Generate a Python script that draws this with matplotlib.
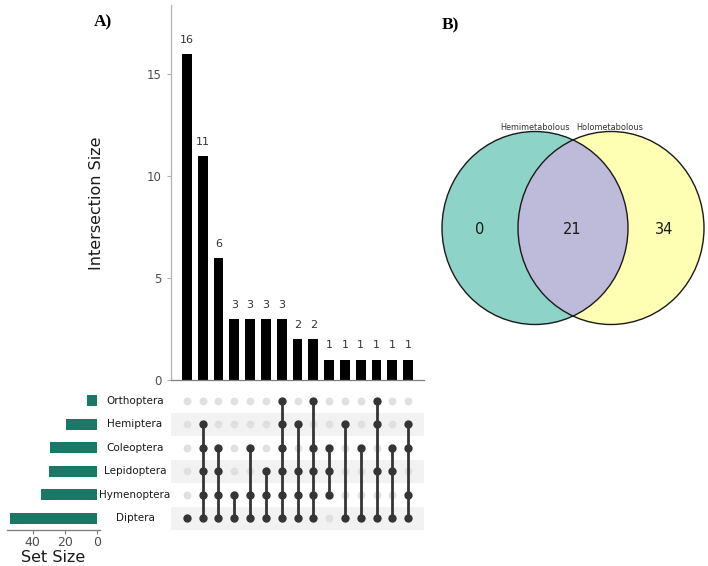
import numpy as np
import matplotlib
matplotlib.use("Agg")
from matplotlib import pyplot as plt
from matplotlib.patches import Ellipse
from matplotlib import transforms

# set names, top to bottom in the matrix
sets = ["Orthoptera", "Hemiptera", "Coleoptera", "Lepidoptera", "Hymenoptera", "Diptera"]
set_sizes = [6, 19, 29, 30, 35, 54]

# intersections, sorted by size
inter_sizes = [16, 11, 6, 3, 3, 3, 3, 2, 2, 1, 1, 1, 1, 1, 1]
inter_members = [
    ["Diptera"],
    ["Hemiptera", "Coleoptera", "Lepidoptera", "Hymenoptera", "Diptera"],
    ["Coleoptera", "Lepidoptera", "Hymenoptera", "Diptera"],
    ["Hymenoptera", "Diptera"],
    ["Coleoptera", "Hymenoptera", "Diptera"],
    ["Lepidoptera", "Hymenoptera", "Diptera"],
    ["Orthoptera", "Hemiptera", "Coleoptera", "Lepidoptera", "Hymenoptera", "Diptera"],
    ["Hemiptera", "Lepidoptera", "Hymenoptera", "Diptera"],
    ["Orthoptera", "Coleoptera", "Lepidoptera", "Hymenoptera", "Diptera"],
    ["Coleoptera", "Lepidoptera", "Hymenoptera"],
    ["Hemiptera", "Diptera"],
    ["Coleoptera", "Diptera"],
    ["Orthoptera", "Hemiptera", "Lepidoptera", "Diptera"],
    ["Coleoptera", "Lepidoptera", "Diptera"],
    ["Hemiptera", "Coleoptera", "Hymenoptera", "Diptera"],
]

# venn
venn_names = ["Hemimetabolous", "Holometabolous"]
venn_counts = [0, 21, 34]   # left only, both, right only

W, H = 708, 566
fig = plt.figure(figsize=(W / 100, H / 100), dpi=100)

def box(x0, y0, x1, y1):
    # pixel box -> figure fraction
    return [x0 / W, 1 - y1 / H, (x1 - x0) / W, (y1 - y0) / H]

grey = "#4d4d4d"
dot_on = "#353535"
dot_off = "#e0e0e0"
teal = "#1b7867"

n = len(inter_sizes)
xs = np.arange(n)
nrow = len(sets)
ys = np.arange(nrow)[::-1]   # Orthoptera on top

# ---- intersection bars
ax_bar = fig.add_axes(box(171, 5, 424, 380))
ax_bar.bar(xs, inter_sizes, width=0.62, color="black")
for x, v in zip(xs, inter_sizes):
    ax_bar.text(x, v + 0.45, str(v), ha="center", va="bottom", fontsize=8, color="#333333")
ax_bar.set_xlim(-1.0, 15.0)
ax_bar.set_ylim(0, 18.4)
ax_bar.set_yticks([0, 5, 10, 15])
ax_bar.tick_params(axis="y", colors="#b0b0b0", labelcolor=grey, labelsize=8.5, length=3, width=0.8)
ax_bar.set_xticks([])
for s in ["top", "right"]:
    ax_bar.spines[s].set_visible(False)
ax_bar.spines["left"].set_color("#b3b3b3")
ax_bar.spines["bottom"].set_color("#808080")
ax_bar.spines["left"].set_linewidth(0.9)
ax_bar.spines["bottom"].set_linewidth(0.9)
fig.text(97 / W, 1 - 203 / H, "Intersection Size", rotation=90, ha="center", va="center",
         fontsize=11.5, color="#1a1a1a")

# ---- matrix
ax_m = fig.add_axes(box(171, 389, 424, 530))
ax_m.set_xlim(-1.0, 15.0)
ax_m.set_ylim(-0.5, nrow - 0.5)
for i, y in enumerate(ys):
    if i % 2 == 1:
        ax_m.axhspan(y - 0.5, y + 0.5, color="#f2f2f2", lw=0, zorder=0)
for x, mem in zip(xs, inter_members):
    on = [ys[sets.index(s)] for s in mem]
    off = [ys[i] for i, s in enumerate(sets) if s not in mem]
    ax_m.scatter([x] * len(off), off, s=32, color=dot_off, zorder=2, lw=0)
    if len(on) > 1:
        ax_m.plot([x, x], [min(on), max(on)], color=dot_on, lw=2.0, zorder=3)
    ax_m.scatter([x] * len(on), on, s=36, color=dot_on, zorder=4, lw=0)
ax_m.axis("off")

tr = transforms.blended_transform_factory(fig.transFigure, ax_m.transData)
for s, y in zip(sets, ys):
    ax_m.text(135 / W, y, s, transform=tr, ha="center", va="center", fontsize=7.5, color="#1a1a1a")

# ---- set sizes
ax_s = fig.add_axes(box(7, 389, 100, 530))
ax_s.barh(ys, set_sizes, height=0.48, color=teal)
ax_s.set_xlim(55.9, -2.06)
ax_s.set_ylim(-0.5, nrow - 0.5)
ax_s.set_yticks([])
ax_s.set_xticks([0, 20, 40])
ax_s.tick_params(axis="x", colors="#808080", labelcolor=grey, labelsize=9, length=3, width=0.8, pad=1)
for s in ["top", "right", "left"]:
    ax_s.spines[s].set_visible(False)
ax_s.spines["bottom"].set_color("#808080")
ax_s.spines["bottom"].set_linewidth(1.0)
fig.text(53 / W, 1 - 557 / H, "Set Size", ha="center", va="center", fontsize=11.5, color="#1a1a1a")

# ---- venn
ax_v = fig.add_axes([0, 0, 1, 1], zorder=-1)
ax_v.set_xlim(0, W)
ax_v.set_ylim(H, 0)
ax_v.axis("off")
cx_l, cx_r, cy, rw, rh = 535, 611, 228, 186, 193
ax_v.add_patch(Ellipse((cx_l, cy), rw, rh, facecolor="#8dd3c7", edgecolor="none"))
ax_v.add_patch(Ellipse((cx_r, cy), rw, rh, facecolor="#ffffb3", edgecolor="none"))
# overlap region
left_clip = Ellipse((cx_l, cy), rw, rh, transform=ax_v.transData, facecolor="none", edgecolor="none")
ax_v.add_patch(left_clip)
ov = Ellipse((cx_r, cy), rw, rh, facecolor="#bebada", edgecolor="none")
ax_v.add_patch(ov)
ov.set_clip_path(left_clip)
ax_v.add_patch(Ellipse((cx_l, cy), rw, rh, facecolor="none", edgecolor="#1a1a1a", lw=1.0))
ax_v.add_patch(Ellipse((cx_r, cy), rw, rh, facecolor="none", edgecolor="#1a1a1a", lw=1.0))
ax_v.text(480, 229, str(venn_counts[0]), ha="center", va="center", fontsize=10.5, color="#1a1a1a")
ax_v.text(572, 229, str(venn_counts[1]), ha="center", va="center", fontsize=10.5, color="#1a1a1a")
ax_v.text(664, 229, str(venn_counts[2]), ha="center", va="center", fontsize=10.5, color="#1a1a1a")
ax_v.text(535, 127, venn_names[0], ha="center", va="center", fontsize=5.9, color="#333333")
ax_v.text(610, 127, venn_names[1], ha="center", va="center", fontsize=5.9, color="#333333")

# panel tags
fig.text(103 / W, 1 - 22 / H, "A)", ha="center", va="center", fontsize=12.5,
         fontweight="bold", family="Liberation Serif")
fig.text(450 / W, 1 - 25 / H, "B)", ha="center", va="center", fontsize=12.5,
         fontweight="bold", family="Liberation Serif")

fig.savefig("out.png", dpi=100)
